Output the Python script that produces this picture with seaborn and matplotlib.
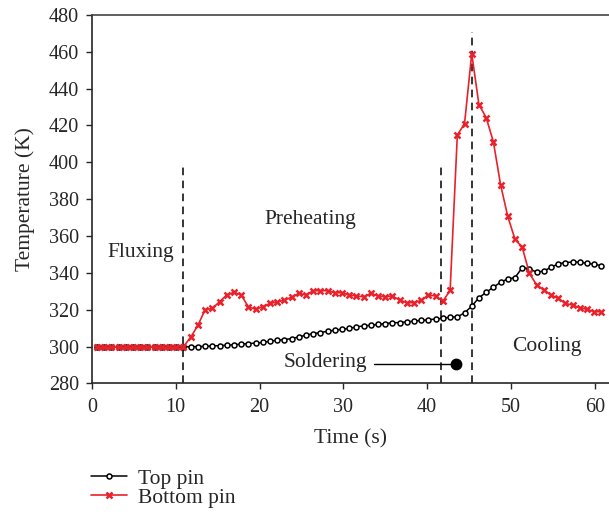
import matplotlib
matplotlib.use('Agg')
import matplotlib.pyplot as plt
import pandas as pd
import seaborn as sns

# sample times (s)
time_s = [0.6, 1.46, 2.32, 3.18, 4.04, 4.9, 5.76, 6.62, 7.48, 8.34,
          9.2, 10.06, 10.92, 11.78, 12.64, 13.5, 14.36, 15.22, 16.08, 16.94,
          17.8, 18.66, 19.52, 20.38, 21.24, 22.1, 22.96, 23.82, 24.68, 25.54,
          26.4, 27.26, 28.12, 28.98, 29.84, 30.7, 31.56, 32.42, 33.28, 34.14,
          35.0, 35.86, 36.72, 37.58, 38.44, 39.3, 40.16, 41.02, 41.88, 42.74,
          43.6, 44.46, 45.32, 46.18, 47.04, 47.9, 48.76, 49.62, 50.48, 51.34,
          52.2, 53.06, 53.92, 54.78, 55.64, 56.5, 57.36, 58.22, 59.08, 59.94,
          60.8]

top_pin = [299.6, 299.6, 299.6, 299.6, 299.6, 299.6, 299.6, 299.6, 299.6, 299.6,
           299.6, 299.6, 299.8, 299.9, 300.0, 300.1, 300.3, 300.5, 300.7, 301.0,
           301.3, 301.6, 301.9, 302.2, 302.9, 303.4, 303.8, 304.3, 305.2, 306.2,
           307.0, 307.6, 308.3, 308.9, 309.4, 309.8, 310.7, 311.2, 311.6, 312.0,
           312.5, 312.9, 313.0, 313.4, 313.8, 314.2, 314.5, 315.0, 315.3, 316.0,
           316.1, 318.3, 321.9, 326.5, 329.4, 332.2, 334.9, 336.7, 337.4, 342.8,
           342.3, 340.3, 341.0, 343.0, 344.9, 345.6, 345.9, 345.8, 345.2, 344.7,
           343.9]

bottom_pin = [299.6, 299.6, 299.6, 299.6, 299.6, 299.6, 299.6, 299.6, 299.6, 299.6,
              299.6, 299.6, 300.0, 305.0, 311.5, 320.0, 320.7, 324.3, 328.0, 329.4,
              328.0, 321.6, 320.2, 321.7, 323.4, 324.2, 325.2, 326.8, 328.9, 328.0,
              330.3, 330.3, 330.3, 329.2, 329.2, 328.0, 327.4, 327.0, 328.9, 327.4,
              327.0, 327.4, 325.2, 323.8, 323.8, 325.2, 328.0, 327.4, 324.6, 330.5,
              414.8, 421.0, 459.0, 431.3, 424.3, 411.2, 387.9, 370.6, 358.3, 353.9,
              339.8, 333.4, 330.7, 328.0, 326.1, 323.4, 322.5, 321.0, 320.2, 318.9,
              318.9]

stage_names = ['Fluxing', 'Preheating', 'Soldering', 'Cooling']
boundaries = [10.9, 41.6, 45.35]
boundary_tops = [399, 398, 471]

df = pd.DataFrame({'time': time_s, 'top': top_pin, 'bottom': bottom_pin})

sns.set_style('ticks')
plt.rcParams['font.family'] = ['Liberation Serif', 'DejaVu Serif']
plt.rcParams['font.size'] = 14

fig = plt.figure(figsize=(6.09, 5.16), dpi=100)
ax = fig.add_axes([0.151, 0.257, 0.849, 0.714])

red = '#e8212b'
sns.lineplot(data=df, x='time', y='top', ax=ax, color='black', lw=1.1,
             marker='o', markersize=3.6, mfc='white', mec='black', mew=1.1,
             label='Top pin', zorder=3)
sns.lineplot(data=df, x='time', y='bottom', ax=ax, color=red, lw=1.2,
             marker='x', markersize=4.2, mec=red, mew=1.8,
             label='Bottom pin', zorder=3)

for xb, yt in zip(boundaries, boundary_tops):
    ax.plot([xb, xb], [280, yt], color='black', lw=1.1, ls=(0, (5, 3.5)), zorder=2)

ax.text(5.8, 351, stage_names[0], ha='center', va='center', fontsize=15.5)
ax.text(26.0, 369, stage_names[1], ha='center', va='center', fontsize=15.5)
ax.text(27.9, 291.5, stage_names[2], ha='center', va='center', fontsize=15.5)
ax.text(54.3, 300, stage_names[3], ha='center', va='center', fontsize=15.5)
ax.plot([33.6, 43.4], [290.5, 290.5], color='black', lw=1.0)
ax.plot([43.4], [290.5], 'o', color='black', markersize=7.5)

ax.set_xlim(0, 61.7)
ax.set_ylim(280, 480)
ax.set_xticks(range(0, 61, 10))
ax.set_yticks(range(280, 481, 20))
ax.set_xlabel('Time (s)', fontsize=15.5, labelpad=9)
ax.set_ylabel('Temperature (K)', fontsize=15.5, labelpad=10)
ax.tick_params(direction='out', length=4.5, width=1, labelsize=14.5)
ax.tick_params(axis='x', pad=6)
ax.tick_params(axis='y', pad=5)
sns.despine(ax=ax, top=False, right=True)
for s in ['left', 'bottom']:
    ax.spines[s].set_linewidth(1.2)
ax.spines['top'].set_linewidth(1.2)
ax.spines['top'].set_color('#444444')

ax.legend(loc='upper left', bbox_to_anchor=(0.136, 0.108), bbox_transform=fig.transFigure,
          frameon=False, fontsize=15.5, handlelength=1.65, labelspacing=-0.05,
          handletextpad=0.5, borderaxespad=0)

plt.savefig('out.png', dpi=100)
plt.close()
